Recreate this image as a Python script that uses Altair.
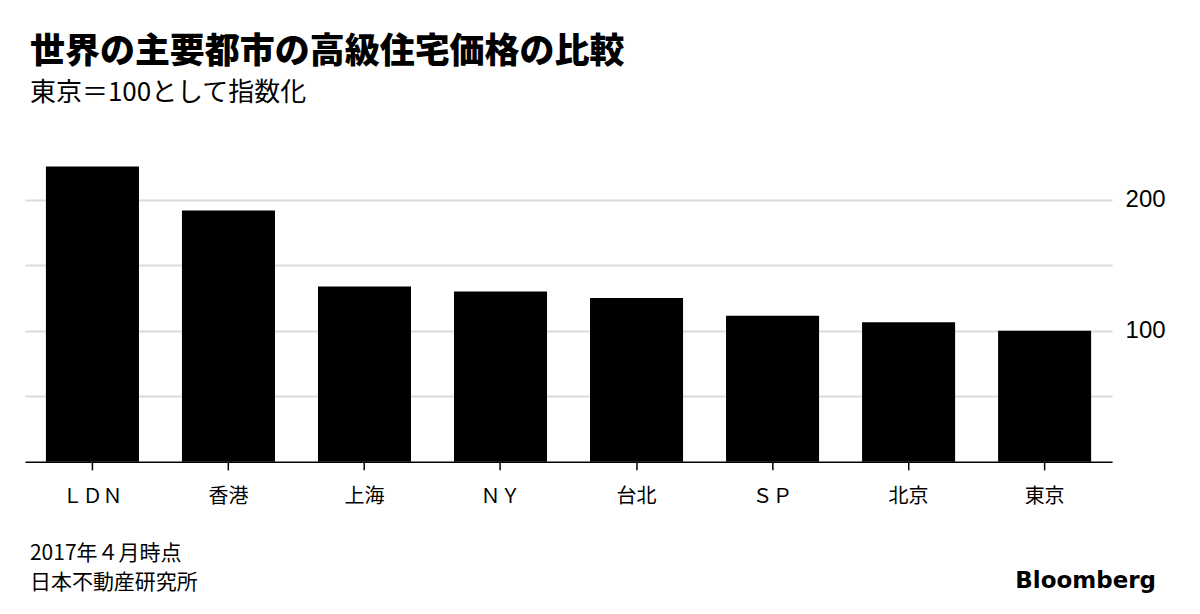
import altair as alt
import pandas as pd

cities = ["ＬＤＮ", "香港", "上海", "ＮＹ", "台北", "ＳＰ", "北京", "東京"]
values = [225.4, 191.8, 133.8, 130.0, 125.0, 111.5, 106.5, 100.0]
y_ticks = [50, 100, 150, 200]

title_text = "世界の主要都市の高級住宅価格の比較"
subtitle_text = "東京＝100として指数化"
note_text = "2017年４月時点"
source_text = "日本不動産研究所"
brand_text = "Bloomberg"

JP = "Noto Sans CJK JP"

df = pd.DataFrame({"city": cities, "value": values})

xscale = alt.Scale(paddingInner=0.316, paddingOuter=0.154)

bars = alt.Chart(df).mark_bar(color="black").encode(
    x=alt.X("city:N", sort=cities, title=None, scale=xscale,
            axis=alt.Axis(labelAngle=0, labelFont=JP, labelFontSize=20,
                          labelColor="black", domainColor="black", domainWidth=1.5,
                          ticks=True, tickColor="black", tickSize=8, tickWidth=1.5,
                          labelPadding=17, grid=False)),
    y=alt.Y("value:Q", title=None,
            scale=alt.Scale(domain=[0, 225], nice=False, zero=True),
            axis=alt.Axis(orient="right", values=y_ticks, domain=False, ticks=False,
                          grid=True, gridColor="#dcdcdc", gridWidth=2,
                          labelExpr="datum.value % 100 == 0 ? datum.label : ''",
                          labelFont="Liberation Sans", labelFontSize=24,
                          labelColor="black", labelPadding=13)),
)

def txt(s, x, y, size, weight="normal", font=JP, align="left"):
    return alt.Chart(pd.DataFrame({"t": [s]})).mark_text(
        align=align, baseline="alphabetic", fontSize=size, fontWeight=weight,
        font=font, color="black").encode(text="t:N", x=alt.value(x), y=alt.value(y))

layers = [
    bars,
    txt(title_text, 5, -104, 35, 900),
    txt(subtitle_text, 5, -66, 26),
    txt(note_text, 5, 393, 21),
    txt(source_text, 5, 422, 21),
    txt(brand_text, 1132, 421, 23, "bold", font="DejaVu Sans", align="right"),
]

chart = alt.layer(*layers).properties(
    width=1088, height=295,
    autosize=alt.AutoSizeParams(type="none"),
    padding={"left": 17, "top": 159, "right": 80, "bottom": 140},
).configure(background="white").configure_view(stroke=None, strokeWidth=0)

chart.save("out.html", embed_options={"renderer": "svg", "actions": False})
